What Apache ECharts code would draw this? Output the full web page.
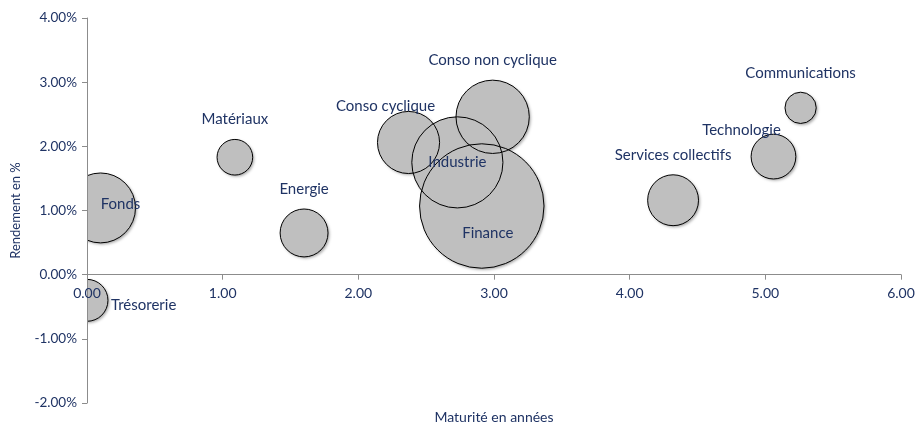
<!DOCTYPE html>
<html><head><meta charset="utf-8">
<script src="https://cdn.jsdelivr.net/npm/echarts@6/dist/echarts.min.js"></script>
<style>html,body{margin:0;padding:0;background:#fff}#c{width:915px;height:426px}</style>
</head><body><div id="c"></div>
<script>
// Data
const sectors   = ['Trésorerie','Fonds','Matériaux','Energie','Conso cyclique','Industrie','Conso non cyclique','Finance','Services collectifs','Technologie','Communications'];
const maturity  = [0.00, 0.10, 1.09, 1.60, 2.37, 2.73, 2.99, 2.91, 4.32, 5.06, 5.26];
const yieldPct  = [-0.40, 1.04, 1.83, 0.65, 2.06, 1.75, 2.46, 1.07, 1.16, 1.84, 2.60];
const weightPct = [3.6, 10.0, 2.6, 4.7, 7.9, 17.0, 11.0, 31.7, 5.3, 4.1, 2.0];
const xTicks = [0, 1, 2, 3, 4, 5, 6];
const yTicks = [-2, -1, 0, 1, 2, 3, 4];

// label placement (styling, not data)
const labelPlace = {
  'Trésorerie':        {position:'right', distance:3, offset:[0,5]},
  'Fonds':             {position:'inside', offset:[20,-4]},
  'Matériaux':         {position:'inside', offset:[0,-38]},
  'Energie':           {position:'inside', offset:[0,-44]},
  'Conso cyclique':    {position:'inside', offset:[-23,-36]},
  'Industrie':         {position:'inside', offset:[0,0]},
  'Conso non cyclique':{position:'inside', offset:[0,-57]},
  'Finance':           {position:'inside', offset:[6,27]},
  'Services collectifs':{position:'inside', offset:[0,-45]},
  'Technologie':       {position:'inside', offset:[-32,-26]},
  'Communications':    {position:'inside', offset:[0,-35]}
};

const FONT = 'Lato';
const NAVY = '#1F3364';
const AXIS = '#8C8C8C';

const points = sectors.map((n,i)=>({name:n, value:[maturity[i], yieldPct[i], weightPct[i]]}));
const sizeFn = v => 22.1*Math.sqrt(v[2]);

function bubbleRenderer(style){
  return function(params, api){
    const c = api.coord([api.value(0), api.value(1)]);
    const r = sizeFn([api.value(0), api.value(1), api.value(2)]) / 2;
    return {type:'circle', shape:{cx:c[0], cy:c[1], r:r}, style:style, silent:true};
  };
}

const chart = echarts.init(document.getElementById('c'), null, {renderer:'canvas'});
chart.setOption({
  animation:false,
  backgroundColor:'#fff',
  grid:{left:87, right:14, top:18, bottom:23, containLabel:false, outerBoundsMode:'none'},
  xAxis:{
    type:'value', min:xTicks[0], max:xTicks[xTicks.length-1], interval:1, z:5,
    name:'Maturité en années', nameLocation:'middle', nameGap:133,
    nameTextStyle:{color:NAVY, fontFamily:FONT, fontSize:14},
    axisLine:{show:true, onZero:true, lineStyle:{color:AXIS, width:1}},
    axisTick:{show:true, inside:false, length:5, lineStyle:{color:AXIS}},
    axisLabel:{color:NAVY, fontFamily:FONT, fontSize:14, margin:12, showMinLabel:true, showMaxLabel:true, hideOverlap:false,
      formatter:v=>v.toFixed(2)},
    splitLine:{show:false}
  },
  yAxis:{
    type:'value', min:yTicks[0], max:yTicks[yTicks.length-1], interval:1, z:5,
    name:'Rendement en %', nameLocation:'middle', nameGap:65, nameRotate:90,
    nameTextStyle:{color:NAVY, fontFamily:FONT, fontSize:13},
    axisLine:{show:true, onZero:false, lineStyle:{color:AXIS, width:1}},
    axisTick:{show:true, inside:false, length:5, lineStyle:{color:AXIS}},
    axisLabel:{color:NAVY, fontFamily:FONT, fontSize:13.5, margin:10, formatter:v=>v.toFixed(2)+'%'},
    splitLine:{show:false}
  },
  series:[
    {
      type:'custom', data:points, z:2, clip:true, encode:{x:0, y:1},
      renderItem:bubbleRenderer({fill:'#BFBFBF', shadowBlur:3, shadowOffsetX:1.5, shadowOffsetY:1.5, shadowColor:'rgba(0,0,0,0.35)'}),
      silent:true
    },
    {
      type:'custom', data:points, z:3, clip:true, encode:{x:0, y:1},
      renderItem:bubbleRenderer({fill:null, stroke:'#000', lineWidth:1}),
      silent:true
    },
    {
      type:'scatter', data:points.map(p=>Object.assign({}, p, {label:Object.assign({show:true}, labelPlace[p.name])})),
      symbolSize:sizeFn, z:4, clip:false,
      itemStyle:{color:'rgba(0,0,0,0)', borderWidth:0, opacity:1},
      label:{show:true, formatter:'{b}', color:NAVY, fontFamily:FONT, fontSize:15},
      emphasis:{disabled:true}, silent:true
    }
  ]
});

// Place the x axis on the y = 0 line, using the library's own y scale
const yBottomPx = chart.convertToPixel({yAxisIndex:0}, yTicks[0]);
const yZeroPx = chart.convertToPixel({yAxisIndex:0}, 0);
const shift = yBottomPx - yZeroPx;
chart.setOption({xAxis:{offset:-shift, nameGap:133 - shift + 131}});
</script>
</body></html>
